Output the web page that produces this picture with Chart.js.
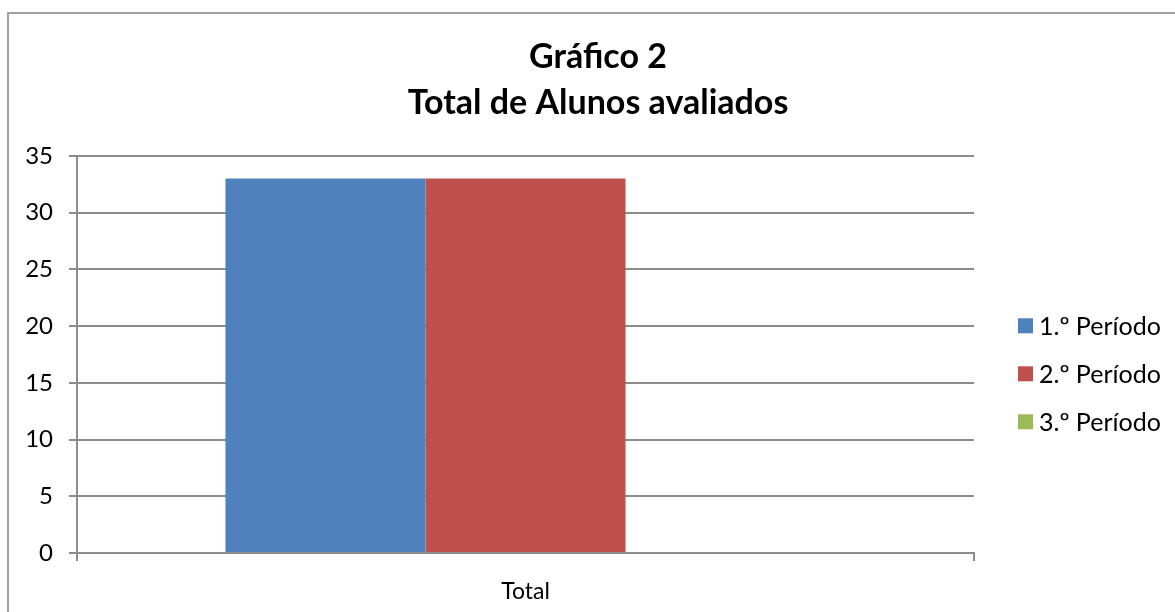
<!DOCTYPE html>
<html lang="pt">
<head>
    <meta charset="UTF-8">
    <title>Gráfico 2 - Total de Alunos avaliados</title>
    <script src="https://cdn.jsdelivr.net/npm/chart.js"></script>
    <style>
        body {
            margin: 0;
            overflow: hidden;
            background: #fff;
            width: 1175px;
            height: 612px;
            position: relative;
        }
        #frame {
            position: absolute;
            left: 7px;
            top: 12px;
            width: 1300px;
            height: 700px;
            border: 2px solid #a0a0a0;
        }
        #chartContainer {
            position: absolute;
            left: 0;
            top: 0;
            width: 1196px;
            height: 612px;
        }
    </style>
</head>
<body>
    <div id="frame"></div>
    <div id="chartContainer">
        <canvas id="alunosChart"></canvas>
    </div>

    <script>
        const titleLines = ['Gráfico 2', 'Total de Alunos avaliados'];
        const categories = ['Total'];
        const seriesNames = ['1.º Período', '2.º Período', '3.º Período'];
        const periodo1 = [33];
        const periodo2 = [33];
        const periodo3 = [0];
        const yTicks = [0, 5, 10, 15, 20, 25, 30, 35];

        const colors = ['#4F81BD', '#C0504D', '#9BBB59'];
        const fontFamily = 'Lato, "Open Sans", sans-serif';

        // legend drawn by hand, Excel style on the right
        const sideLegend = {
            id: 'sideLegend',
            afterDraw(chart) {
                const ctx = chart.ctx;
                const area = chart.chartArea;
                ctx.save();
                ctx.font = '25px ' + fontFamily;
                ctx.textBaseline = 'middle';
                chart.data.datasets.forEach((ds, i) => {
                    const y = area.top + 170 + i * 48;
                    ctx.fillStyle = ds.backgroundColor;
                    ctx.fillRect(area.right + 44, y - 7.5, 15, 15);
                    ctx.fillStyle = '#000';
                    ctx.fillText(ds.label, area.right + 65, y + 1);
                });
                ctx.restore();
            }
        };

        const ctx = document.getElementById('alunosChart').getContext('2d');
        const alunosChart = new Chart(ctx, {
            type: 'bar',
            data: {
                labels: categories,
                datasets: [
                    { label: seriesNames[0], data: periodo1, backgroundColor: colors[0] },
                    { label: seriesNames[1], data: periodo2, backgroundColor: colors[1] },
                    { label: seriesNames[2], data: periodo3, backgroundColor: colors[2] }
                ]
            },
            options: {
                responsive: true,
                maintainAspectRatio: false,
                animation: false,
                layout: { padding: { left: 0, right: 0, top: 0, bottom: 0 } },
                datasets: {
                    bar: { barPercentage: 1, categoryPercentage: 0.669, borderWidth: 0 }
                },
                plugins: {
                    legend: { display: false },
                    tooltip: { enabled: false },
                    title: {
                        display: true,
                        text: titleLines,
                        color: '#000',
                        font: { family: fontFamily, size: 34, weight: 'bold', lineHeight: 1.35 },
                        padding: { top: 34, bottom: 30 }
                    }
                },
                scales: {
                    x: {
                        grid: {
                            display: true,
                            drawOnChartArea: false,
                            drawTicks: true,
                            tickLength: 8,
                            color: '#8c8c8c',
                            lineWidth: 2
                        },
                        border: { display: true, color: '#8c8c8c', width: 2 },
                        ticks: {
                            color: '#000',
                            font: { family: fontFamily, size: 23 },
                            padding: 17
                        },
                        afterFit(scale) { scale.height = 59; }
                    },
                    y: {
                        min: 0,
                        max: 35,
                        afterBuildTicks(scale) {
                            scale.ticks = yTicks.map(v => ({ value: v }));
                        },
                        grid: {
                            color: '#8c8c8c',
                            lineWidth: 2,
                            tickLength: 8
                        },
                        border: { display: true, color: '#8c8c8c', width: 2 },
                        ticks: {
                            color: '#000',
                            font: { family: fontFamily, size: 24 },
                            padding: 16
                        },
                        afterFit(scale) { scale.width = 77; }
                    },
                    // empty axis that just keeps room for the legend
                    yRight: {
                        position: 'right',
                        display: true,
                        grid: { display: false },
                        border: { display: false },
                        ticks: { display: false },
                        afterFit(scale) { scale.width = 222; }
                    }
                }
            },
            plugins: [sideLegend]
        });
    </script>
</body>
</html>
